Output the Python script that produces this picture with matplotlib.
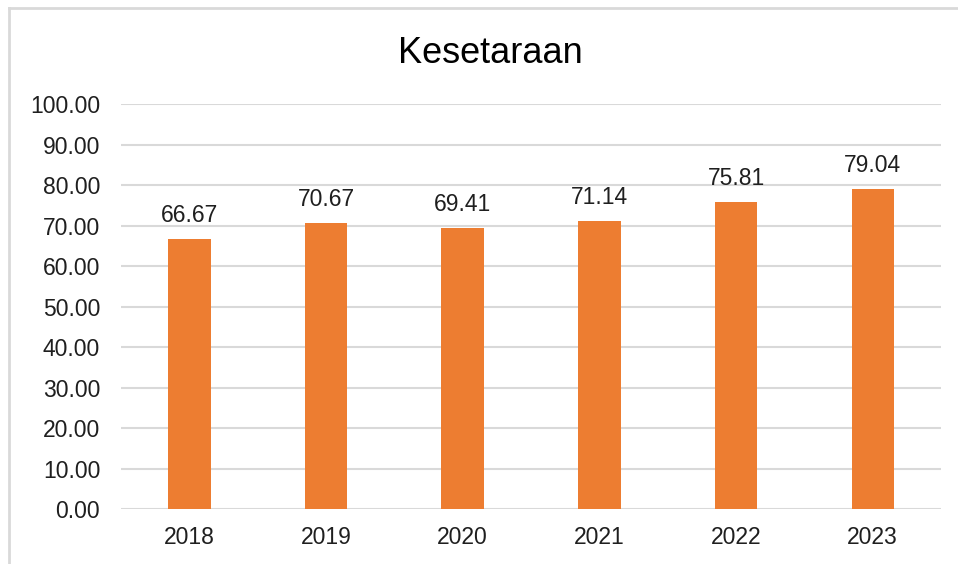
import matplotlib.pyplot as plt
from matplotlib.lines import Line2D

years = ["2018", "2019", "2020", "2021", "2022", "2023"]
values = [66.67, 70.67, 69.41, 71.14, 75.81, 79.04]
yticks = [0, 10, 20, 30, 40, 50, 60, 70, 80, 90, 100]

plt.rcParams["font.family"] = ["Liberation Sans", "DejaVu Sans"]
text_color = "#1F1F1F"
grid_color = "#D9D9D9"

fig = plt.figure(figsize=(9.58, 5.64), dpi=100)
ax = fig.add_axes([0.1263, 0.0975, 0.856, 0.7181])

x = range(len(years))
bars = ax.bar(x, values, width=0.31, color="#ED7D31", zorder=3)
for xi, v in zip(x, values):
    ax.text(xi, v + 2.9, f"{v:.2f}", ha="center", va="bottom",
            fontsize=16.5, color=text_color)

ax.set_xlim(-0.5, len(years) - 0.5)
ax.set_ylim(0, 100)
ax.set_yticks(yticks)
ax.set_yticklabels([f"{t:.2f}" for t in yticks])
ax.set_xticks(list(x))
ax.set_xticklabels(years)
ax.tick_params(axis="y", length=0, pad=15, labelsize=16.5, labelcolor=text_color)
ax.tick_params(axis="x", length=0, pad=12, labelsize=16.5, labelcolor=text_color)
ax.grid(axis="y", color=grid_color, linewidth=1.5, zorder=0)
for s in ax.spines.values():
    s.set_visible(False)

fig.text(0.512, 0.905, "Kesetaraan", ha="center", va="center",
         fontsize=26, color="#000000")

# chart frame (left and top edges visible in crop)
fig.add_artist(Line2D([9 / 958, 9 / 958], [0, 1 - 8 / 564], color=grid_color,
                      linewidth=2, transform=fig.transFigure))
fig.add_artist(Line2D([9 / 958, 1], [1 - 8 / 564, 1 - 8 / 564], color=grid_color,
                      linewidth=2, transform=fig.transFigure))

fig.savefig("out.png", dpi=100)
